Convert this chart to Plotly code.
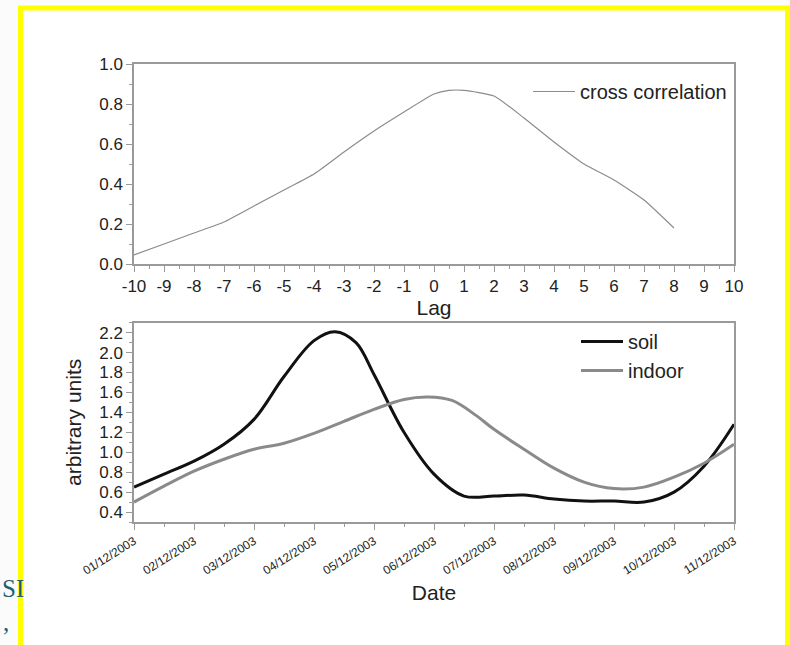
import plotly.graph_objects as go

# ---- data ----
lags = [-10, -9, -8, -7, -6, -5, -4, -3, -2, -1, 0, 0.5, 1, 2, 3, 4, 5, 6, 7, 8]
xcorr = [0.045, 0.10, 0.155, 0.21, 0.29, 0.37, 0.45, 0.56, 0.665, 0.76, 0.85, 0.868, 0.868, 0.84,
         0.73, 0.61, 0.50, 0.42, 0.32, 0.18]

date_labels = ["01/12/2003", "02/12/2003", "03/12/2003", "04/12/2003", "05/12/2003",
               "06/12/2003", "07/12/2003", "08/12/2003", "09/12/2003", "10/12/2003",
               "11/12/2003"]
t = [0, 0.5, 1, 1.5, 2, 2.5, 3, 3.35, 3.7, 4, 4.5, 5, 5.5, 6, 6.5, 7, 7.5,
     8, 8.5, 9, 9.5, 10]
soil = [0.65, 0.78, 0.91, 1.08, 1.33, 1.76, 2.12, 2.21, 2.10, 1.78, 1.20, 0.78,
        0.56, 0.56, 0.57, 0.53, 0.51, 0.51, 0.50, 0.60, 0.86, 1.28]
t_in = [0, 0.5, 1, 1.5, 2, 2.5, 3, 3.5, 4, 4.5, 4.9, 5.3, 5.7, 6, 6.5, 7, 7.5, 8, 8.5, 9,
        9.5, 10]
indoor = [0.50, 0.66, 0.81, 0.93, 1.03, 1.09, 1.19, 1.31, 1.43, 1.53, 1.555, 1.52, 1.37,
          1.23, 1.03, 0.84, 0.70, 0.635, 0.65, 0.75, 0.89, 1.08]

W, H = 790, 645
px = lambda v: v / W
py = lambda v: (H - v) / H

FONT = "Liberation Sans, Arial, sans-serif"
TXT = "#222222"
AX = "#9a9a9a"

fig = go.Figure()
fig.add_trace(go.Scatter(x=lags, y=xcorr, mode="lines", name="cross correlation",
                         line=dict(color="#8c8c8c", width=1.2, shape="spline", smoothing=0.5),
                         xaxis="x", yaxis="y", legend="legend"))
fig.add_trace(go.Scatter(x=t, y=soil, mode="lines", name="soil",
                         line=dict(color="#111111", width=3, shape="spline", smoothing=1),
                         xaxis="x2", yaxis="y2", legend="legend2"))
fig.add_trace(go.Scatter(x=t_in, y=indoor, mode="lines", name="indoor",
                         line=dict(color="#8a8a8a", width=3, shape="spline", smoothing=1),
                         xaxis="x2", yaxis="y2", legend="legend2"))

common = dict(showgrid=False, zeroline=False, showline=True, linecolor=AX, linewidth=1.5,
              mirror=True, ticks="outside", tickcolor=AX, ticklen=6, tickwidth=1.2,
              automargin=False,
              tickfont=dict(family=FONT, size=17, color=TXT))

fig.update_layout(
    template="none",
    width=W, height=H,
    margin=dict(l=0, r=0, t=0, b=0, pad=0),
    paper_bgcolor="#fbfbfb", plot_bgcolor="rgba(0,0,0,0)",
    font=dict(family=FONT, color=TXT),
    xaxis=dict(domain=[px(134), px(734)], anchor="y", range=[-10, 10], tickmode="array",
               tickvals=list(range(-10, 11)), ticktext=[str(v) for v in range(-10, 11)],
               minor=dict(dtick=0.5, ticklen=3, tickcolor=AX, ticks="outside"),
               title=dict(text="Lag", font=dict(size=21, family=FONT, color=TXT), standoff=2),
               **common),
    yaxis=dict(domain=[py(264), py(64)], anchor="x", range=[0, 1], dtick=0.2,
               tickformat=".1f",
               minor=dict(dtick=0.1, ticklen=3, tickcolor=AX, ticks="outside"),
               **common),
    xaxis2=dict(domain=[px(134), px(734)], anchor="y2", range=[0, 10], tickmode="array",
                tickvals=list(range(11)), ticktext=date_labels, tickangle=-32,
                minor=dict(dtick=0.5, ticklen=3, tickcolor=AX, ticks="outside"),
                title=dict(text="Date", font=dict(size=21, family=FONT, color=TXT), standoff=9),
                **{**common, "tickfont": dict(family=FONT, size=12, color=TXT)}),
    yaxis2=dict(domain=[py(522), py(322.7)], anchor="x2", range=[0.3, 2.3], tickmode="array",
                tickvals=[0.4, 0.6, 0.8, 1.0, 1.2, 1.4, 1.6, 1.8, 2.0, 2.2], tickformat=".1f",
                minor=dict(dtick=0.1, ticklen=3, tickcolor=AX, ticks="outside"),
                title=dict(text="arbitrary units", font=dict(size=21, family=FONT, color=TXT),
                           standoff=12),
                **common),
    legend=dict(x=px(528), y=py(72), xanchor="left", yanchor="top",
                bgcolor="rgba(0,0,0,0)", font=dict(size=20, family=FONT, color=TXT),
                itemwidth=42, tracegroupgap=0),
    legend2=dict(x=px(576), y=py(322), xanchor="left", yanchor="top",
                 bgcolor="rgba(0,0,0,0)", font=dict(size=20, family=FONT, color=TXT),
                 itemwidth=42, tracegroupgap=0),
    showlegend=True,
)

# yellow frame of the slide picture
fig.add_shape(type="rect", xref="paper", yref="paper", layer="below",
              x0=px(20.5), x1=px(787.5), y0=-0.05, y1=py(8),
              line=dict(color="#ffff00", width=5), fillcolor="white")

fig.add_annotation(text="SI", xref="paper", yref="paper", x=px(0), y=py(588),
                   xanchor="left", yanchor="middle", showarrow=False,
                   font=dict(family="Liberation Serif, serif", size=25, color="#1d5f78"))
fig.add_annotation(text=",", xref="paper", yref="paper", x=px(1), y=py(622),
                   xanchor="left", yanchor="middle", showarrow=False,
                   font=dict(family="Liberation Serif, serif", size=25, color="#1d5f78"))

fig.write_html("out.html")
